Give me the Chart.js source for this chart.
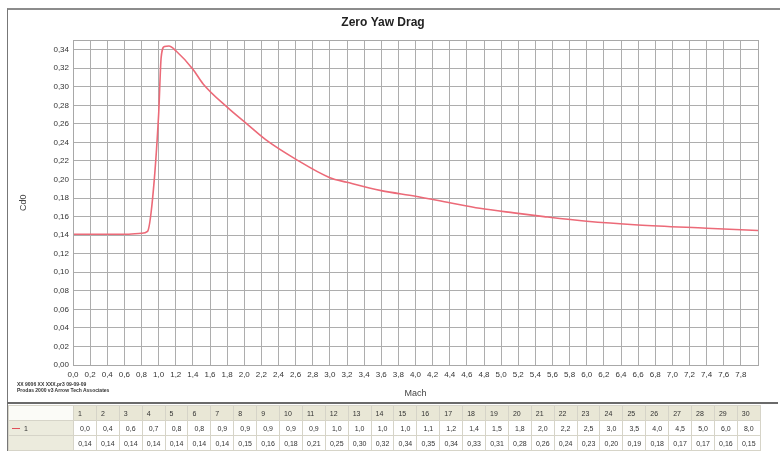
<!DOCTYPE html>
<html>
<head>
<meta charset="utf-8">
<script src="https://cdn.jsdelivr.net/npm/chart.js@4.4.1/dist/chart.umd.min.js"></script>
<style>
  html, body { margin: 0; padding: 0; background: #fff; }
  body { width: 780px; height: 451px; position: relative; overflow: hidden; font-family: "Liberation Sans", Arial, sans-serif; }
  #frame { position: absolute; left: 7px; top: 8px; width: 780px; height: 450px; border-top: 2px solid #8c8c8c; border-left: 1px solid #777; }
  #wrap { position: absolute; left: 8px; top: 10px; width: 772px; height: 393px; }
  #sep { position: absolute; left: 7px; top: 402px; width: 771px; height: 2px; background: #6a6a6a; }
  .tiny { position: absolute; left: 17px; font-size: 5px; font-weight: bold; color: #333; white-space: nowrap; }
  #grid { position: absolute; left: 8px; top: 405px; border-collapse: collapse; table-layout: fixed; font-size: 7px; color: #333; }
  #grid td { height: 14px; padding: 0; border: 1px solid #d6d4c8; text-align: center; overflow: hidden; white-space: nowrap; }
  #grid tr.head td { background: #e9e7d6; text-align: left; padding-left: 4px; }
  #grid td.lead { background: #ecebdd; text-align: left; padding-left: 3px; }
  #grid tr.head td.lead { background: #fbfbf7; }
  .mark { display: inline-block; width: 8px; height: 1px; background: #e0505a; vertical-align: middle; margin-right: 4px; }
</style>
</head>
<body>
<div id="frame"></div>
<div id="wrap"><canvas id="chart"></canvas></div>
<div class="tiny" style="top:381px">XX 9006 XX XXX.pr3 09-09-09</div>
<div class="tiny" style="top:387px">Prodas 2000 v3 Arrow Tech Associates</div>
<div id="sep"></div>
<table id="grid"></table>
<script>
// curve
const machValues = [0.0, 0.4, 0.6, 0.8, 0.87, 0.93, 1.0, 1.03, 1.07, 1.12, 1.21, 1.4, 1.52, 1.8, 2.03, 2.25, 2.6, 3.0, 3.2, 3.6, 4.0, 4.4, 4.75, 5.15, 5.5, 6.0, 6.6, 7.4, 8.0];
const cdValues = [0.141, 0.141, 0.141, 0.142, 0.144, 0.18, 0.27, 0.332, 0.3435, 0.344, 0.338, 0.319, 0.303, 0.278, 0.26, 0.243, 0.222, 0.202, 0.197, 0.188, 0.182, 0.175, 0.169, 0.164, 0.16, 0.155, 0.151, 0.1475, 0.145];

// data table under the chart
const tableCols = [1, 2, 3, 4, 5, 6, 7, 8, 9, 10, 11, 12, 13, 14, 15, 16, 17, 18, 19, 20, 21, 22, 23, 24, 25, 26, 27, 28, 29, 30];
const tableMach = [0.0, 0.4, 0.6, 0.7, 0.8, 0.8, 0.9, 0.9, 0.9, 0.9, 0.9, 1.0, 1.0, 1.0, 1.0, 1.1, 1.2, 1.4, 1.5, 1.8, 2.0, 2.2, 2.5, 3.0, 3.5, 4.0, 4.5, 5.0, 6.0, 8.0];
const tableCd = [0.14, 0.14, 0.14, 0.14, 0.14, 0.14, 0.14, 0.15, 0.16, 0.18, 0.21, 0.25, 0.30, 0.32, 0.34, 0.35, 0.34, 0.33, 0.31, 0.28, 0.26, 0.24, 0.23, 0.20, 0.19, 0.18, 0.17, 0.17, 0.16, 0.15];

const xMin = 0, xMax = 8, xStep = 0.2;
const yMin = 0, yMax = 0.35, yStep = 0.02;

const comma = (v, d) => v.toFixed(d).replace('.', ',');

function buildTable() {
    const t = document.getElementById('grid');
    let html = '<colgroup><col style="width:65px">';
    tableCols.forEach(() => { html += '<col style="width:22.9px">'; });
    html += '</colgroup>';
    html += '<tr class="head"><td class="lead"></td>' + tableCols.map(c => '<td>' + c + '</td>').join('') + '</tr>';
    html += '<tr><td class="lead"><span class="mark"></span>1</td>' + tableMach.map(v => '<td>' + comma(v, 1) + '</td>').join('') + '</tr>';
    html += '<tr><td class="lead"></td>' + tableCd.map(v => '<td>' + comma(v, 2) + '</td>').join('') + '</tr>';
    t.innerHTML = html;
}
buildTable();

const boxPlugin = {
    id: 'box',
    afterDraw(chart) {
        const a = chart.chartArea, ctx = chart.ctx;
        ctx.save();
        ctx.strokeStyle = '#a8a8a8';
        ctx.lineWidth = 1;
        ctx.strokeRect(Math.round(a.left) + 0.5, Math.round(a.top) + 0.5, Math.round(a.right - a.left), Math.round(a.bottom - a.top));
        ctx.restore();
    }
};

const font = 'Liberation Sans, Arial, sans-serif';

new Chart(document.getElementById('chart').getContext('2d'), {
    type: 'scatter',
    data: {
        datasets: [{
            data: machValues.map((m, i) => ({ x: m, y: cdValues[i] })),
            showLine: true,
            borderColor: '#ec6a78',
            borderWidth: 1.6,
            pointRadius: 0,
            cubicInterpolationMode: 'monotone',
            fill: false
        }]
    },
    options: {
        responsive: true,
        maintainAspectRatio: false,
        animation: false,
        layout: { padding: { left: 0, right: 22, top: 0, bottom: 0 } },
        plugins: {
            legend: { display: false },
            tooltip: { enabled: false },
            title: {
                display: true,
                text: 'Zero Yaw Drag',
                color: '#222',
                font: { family: font, size: 12, weight: 'bold' },
                padding: { top: 5, bottom: 11 }
            }
        },
        scales: {
            x: {
                type: 'linear',
                min: xMin,
                max: xMax,
                afterFit(scale) { scale.height = 38; },
                grid: { color: '#adadad', drawTicks: false },
                border: { color: '#9a9a9a' },
                ticks: {
                    stepSize: xStep,
                    autoSkip: false,
                    maxRotation: 0,
                    padding: 5,
                    color: '#333',
                    font: { family: font, size: 8 },
                    callback: v => (v >= xMax - 0.01 ? '' : comma(v, 1))
                },
                title: {
                    display: true,
                    text: 'Mach',
                    color: '#444',
                    font: { family: font, size: 9 },
                    padding: { top: 0, bottom: 4 }
                }
            },
            y: {
                type: 'linear',
                min: yMin,
                max: yMax,
                afterFit(scale) { scale.width = 65; },
                grid: { color: '#adadad', drawTicks: false },
                border: { color: '#9a9a9a' },
                ticks: {
                    stepSize: yStep,
                    includeBounds: false,
                    autoSkip: false,
                    padding: 4,
                    color: '#333',
                    font: { family: font, size: 8 },
                    callback: v => comma(v, 2)
                },
                title: {
                    display: true,
                    text: 'Cd0',
                    color: '#444',
                    font: { family: font, size: 9 },
                    padding: { top: 10, bottom: 0 }
                }
            }
        }
    },
    plugins: [boxPlugin]
});
</script>
</body>
</html>
